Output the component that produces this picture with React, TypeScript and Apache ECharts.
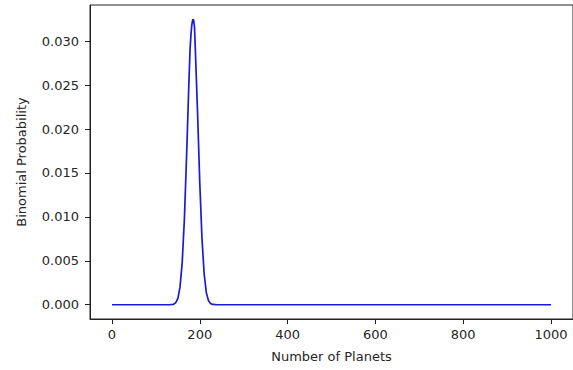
import React, { useEffect, useRef } from "react";
import * as echarts from "echarts";

// Number of planets (x) and binomial probability (y)
const planets = [0, 50, 100, 130, 140, 145, 150, 155, 160, 165, 170, 175, 178, 180, 182, 184, 186, 188, 190, 195, 200, 205, 210, 215, 220, 225, 230, 240, 260, 300, 400, 500, 600, 700, 800, 900, 1000];
const probability = [0, 0, 0, 0, 0.00005, 0.00021, 0.0007, 0.002, 0.0048, 0.0098, 0.017, 0.0249, 0.0292, 0.0308, 0.0319, 0.0325, 0.0324, 0.0316, 0.0289, 0.0218, 0.0139, 0.0076, 0.0035, 0.00135, 0.00045, 0.00012, 0.00003, 0, 0, 0, 0, 0, 0, 0, 0, 0, 0];

const xTicks = [0, 200, 400, 600, 800, 1000];
const yTicks = [0, 0.005, 0.01, 0.015, 0.02, 0.025, 0.03];

const FONT = "DejaVu Sans";
const INK = "#262626";

export default function App() {
  const ref = useRef<HTMLDivElement>(null);
  useEffect(() => {
    if (!ref.current) return;
    const chart = echarts.init(ref.current, undefined, { renderer: "svg" });
    const data = planets.map((x, i) => [x, probability[i]]);
    chart.setOption({
      animation: false,
      backgroundColor: "#ffffff",
      grid: { left: 90, right: -1, top: 5, bottom: 51, show: true, borderColor: "#222", borderWidth: 1, backgroundColor: "transparent" },
      xAxis: {
        type: "value",
        min: -50,
        max: 1050,
        name: "Number of Planets",
        nameLocation: "middle",
        nameGap: 31,
        nameTextStyle: { fontFamily: FONT, fontSize: 13, color: INK },
        splitLine: { show: false },
        axisLine: { show: true, onZero: false, lineStyle: { color: "#222", width: 1 } },
        axisTick: { show: true, length: 5, lineStyle: { color: "#222" }, customValues: xTicks },
        axisLabel: { fontFamily: FONT, fontSize: 13, color: INK, margin: 9, customValues: xTicks, formatter: (v: number) => String(v) },
      },
      yAxis: {
        type: "value",
        min: -0.001625,
        max: 0.034125,
        name: "Binomial Probability",
        nameLocation: "middle",
        nameGap: 62,
        nameTextStyle: { fontFamily: FONT, fontSize: 13, color: INK },
        splitLine: { show: false },
        axisLine: { show: true, onZero: false, lineStyle: { color: "#222", width: 1 } },
        axisTick: { show: true, length: 5, lineStyle: { color: "#222" }, customValues: yTicks },
        axisLabel: { fontFamily: FONT, fontSize: 13, color: INK, margin: 11, customValues: yTicks, formatter: (v: number) => v.toFixed(3) },
      },
      series: [
        {
          type: "line",
          data,
          showSymbol: false,
          symbol: "none",
          lineStyle: { color: "#1a1ad8", width: 1.7 },
          z: 3,
        },
      ],
    });
    return () => chart.dispose();
  }, []);
  return <div ref={ref} style={{ width: 573, height: 370, position: "absolute", left: 0, top: 0 }} />;
}
